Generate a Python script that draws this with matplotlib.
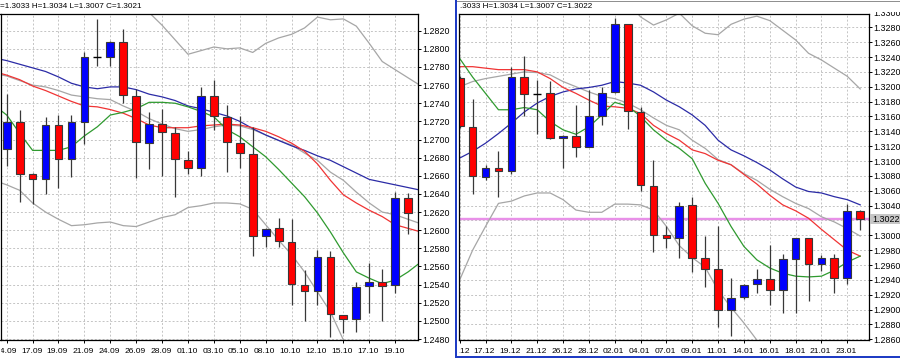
import numpy as np
import matplotlib
matplotlib.use("Agg")
import matplotlib.pyplot as plt
from matplotlib.patches import Rectangle
from matplotlib.transforms import Bbox, blended_transform_factory

plt.rcParams['font.family'] = ['Liberation Sans', 'DejaVu Sans']

# ---------------- left chart data ----------------
left_title = "=1.3033 H=1.3034 L=1.3007 C=1.3021"
left_dates = ["14.09", "17.09", "19.09", "21.09", "24.09", "26.09", "28.09", "01.10",
              "03.10", "05.10", "08.10", "10.10", "12.10", "15.10", "17.10", "19.10"]
left_open = [1.2690, 1.2719, 1.2662, 1.2656, 1.2716, 1.2678, 1.2719, 1.2791, 1.2791, 1.2808,
             1.2748, 1.2696, 1.2717, 1.2707, 1.2677, 1.2669, 1.2748, 1.2725, 1.2696, 1.2684,
             1.2594, 1.2602, 1.2587, 1.2540, 1.2533, 1.2570, 1.2507, 1.2502, 1.2538, 1.2543,
             1.2540, 1.2635]
left_high = [1.2750, 1.2733, 1.2663, 1.2725, 1.2727, 1.2727, 1.2797, 1.2833, 1.2809, 1.2822,
             1.2756, 1.2730, 1.2734, 1.2714, 1.2687, 1.2758, 1.2766, 1.2738, 1.2726, 1.2714,
             1.2602, 1.2613, 1.2612, 1.2556, 1.2578, 1.2577, 1.2507, 1.2543, 1.2564, 1.2557,
             1.2642, 1.2641]
left_low = [1.2671, 1.2631, 1.2629, 1.2640, 1.2646, 1.2659, 1.2695, 1.2781, 1.2781, 1.2740,
            1.2657, 1.2668, 1.2660, 1.2637, 1.2662, 1.2660, 1.2710, 1.2664, 1.2669, 1.2572,
            1.2582, 1.2582, 1.2517, 1.2500, 1.2517, 1.2482, 1.2487, 1.2488, 1.2509, 1.2500,
            1.2531, 1.2596]
left_close = [1.2719, 1.2662, 1.2656, 1.2716, 1.2678, 1.2719, 1.2791, 1.2791, 1.2808, 1.2749,
              1.2697, 1.2717, 1.2708, 1.2678, 1.2669, 1.2748, 1.2726, 1.2697, 1.2685, 1.2594,
              1.2601, 1.2588, 1.2541, 1.2533, 1.2570, 1.2508, 1.2502, 1.2537, 1.2543, 1.2539,
              1.2635, 1.2619]
# indicator lines, bar -1 .. bar 32
left_ma_blue = [1.2790, 1.2787, 1.2783, 1.2779, 1.2775, 1.2769, 1.2762, 1.2758, 1.2756, 1.2758,
                1.2758, 1.2755, 1.2750, 1.2747, 1.2743, 1.2737, 1.2734, 1.2730, 1.2726, 1.2720,
                1.2712, 1.2705, 1.2699, 1.2693, 1.2688, 1.2682, 1.2677, 1.2670, 1.2663, 1.2656,
                1.2653, 1.2650, 1.2647, 1.2644]
left_ma_red = [1.2775, 1.2771, 1.2766, 1.2759, 1.2754, 1.2748, 1.2742, 1.2737, 1.2736, 1.2733,
               1.2729, 1.2723, 1.2716, 1.2713, 1.2713, 1.2713, 1.2715, 1.2716, 1.2717, 1.2716,
               1.2713, 1.2709, 1.2703, 1.2696, 1.2687, 1.2673, 1.2655, 1.2639, 1.2630, 1.2622,
               1.2615, 1.2606, 1.2602, 1.2598]
left_ma_green = [1.2738, 1.2727, 1.2707, 1.2688, 1.2688, 1.2688, 1.2692, 1.2704, 1.2714, 1.2727,
                 1.2730, 1.2734, 1.2741, 1.2741, 1.2740, 1.2736, 1.2731, 1.2725, 1.2711, 1.2703,
                 1.2692, 1.2681, 1.2667, 1.2652, 1.2637, 1.2619, 1.2598, 1.2575, 1.2554, 1.2547,
                 1.2541, 1.2545, 1.2554, 1.2565]
left_bb_mid = [1.2773, 1.2770, 1.2765, 1.2760, 1.2758, 1.2754, 1.2749, 1.2747, 1.2745, 1.2744,
               1.2737, 1.2731, 1.2723, 1.2717, 1.2712, 1.2709, 1.2711, 1.2714, 1.2716, 1.2715,
               1.2711, 1.2705, 1.2699, 1.2694, 1.2685, 1.2677, 1.2664, 1.2655, 1.2642, 1.2630,
               1.2620, 1.2617, 1.2612, 1.2607]
left_bb_up = [1.2891, 1.2890, 1.2886, 1.2890, 1.2896, 1.2896, 1.2893, 1.2888, 1.2882, 1.2879,
              1.2869, 1.2858, 1.2840, 1.2826, 1.2810, 1.2794, 1.2798, 1.2802, 1.2800, 1.2801,
              1.2796, 1.2806, 1.2812, 1.2816, 1.2823, 1.2835, 1.2832, 1.2833, 1.2825, 1.2806,
              1.2786, 1.2777, 1.2768, 1.2759]
left_bb_lo = [1.2655, 1.2650, 1.2644, 1.2630, 1.2620, 1.2612, 1.2605, 1.2606, 1.2608, 1.2609,
              1.2605, 1.2604, 1.2609, 1.2614, 1.2617, 1.2625, 1.2627, 1.2630, 1.2630, 1.2629,
              1.2623, 1.2606, 1.2589, 1.2573, 1.2554, 1.2532, 1.2510, 1.2479, 1.2459, 1.2454,
              1.2454, 1.2457, 1.2456, 1.2455]

# ---------------- right chart data ----------------
right_title = ".3033 H=1.3034 L=1.3007 C=1.3022"
right_dates = ["14.12", "17.12", "19.12", "21.12", "26.12", "28.12", "02.01", "04.01",
               "07.01", "09.01", "11.01", "14.01", "16.01", "18.01", "21.01", "23.01"]
right_open = [1.3212, 1.3146, 1.3079, 1.3090, 1.3087, 1.3213, 1.3190, 1.3191, 1.3131, 1.3134,
              1.3119, 1.3161, 1.3193, 1.3284, 1.3166, 1.3066, 1.3000, 1.2997, 1.3041, 1.2969,
              1.2954, 1.2900, 1.2917, 1.2934, 1.2941, 1.2926, 1.2968, 1.2996, 1.2962, 1.2969,
              1.2942, 1.3033]
right_high = [1.3215, 1.3183, 1.3094, 1.3114, 1.3227, 1.3241, 1.3209, 1.3208, 1.3135, 1.3175,
              1.3196, 1.3199, 1.3293, 1.3285, 1.3173, 1.3101, 1.3012, 1.3045, 1.3052, 1.2999,
              1.3013, 1.2942, 1.2934, 1.2954, 1.2987, 1.2975, 1.2997, 1.2997, 1.2973, 1.2975,
              1.3042, 1.3034]
right_low = [1.3145, 1.3056, 1.3075, 1.3051, 1.3083, 1.3160, 1.3137, 1.3130, 1.3090, 1.3106,
             1.3119, 1.3148, 1.3192, 1.3143, 1.3060, 1.2978, 1.2983, 1.2970, 1.2951, 1.2930,
             1.2876, 1.2864, 1.2914, 1.2922, 1.2906, 1.2896, 1.2896, 1.2912, 1.2952, 1.2922,
             1.2934, 1.3007]
right_close = [1.3147, 1.3080, 1.3090, 1.3086, 1.3213, 1.3190, 1.3190, 1.3131, 1.3134, 1.3119,
               1.3160, 1.3192, 1.3284, 1.3167, 1.3068, 1.3000, 1.2997, 1.3040, 1.2970, 1.2955,
               1.2900, 1.2916, 1.2933, 1.2941, 1.2926, 1.2968, 1.2996, 1.2962, 1.2969, 1.2942,
               1.3033, 1.3022]
right_ma_blue = [1.3104, 1.3113, 1.3124, 1.3137, 1.3151, 1.3166, 1.3178, 1.3187, 1.3193, 1.3197,
                 1.3199, 1.3202, 1.3207, 1.3205, 1.3202, 1.3193, 1.3182, 1.3173, 1.3162, 1.3148,
                 1.3128, 1.3115, 1.3107, 1.3098, 1.3088, 1.3076, 1.3065, 1.3059, 1.3057, 1.3052,
                 1.3048, 1.3041]
right_ma_red = [1.3227, 1.3227, 1.3225, 1.3223, 1.3223, 1.3223, 1.3220, 1.3211, 1.3199, 1.3191,
                1.3182, 1.3174, 1.3173, 1.3171, 1.3164, 1.3148, 1.3137, 1.3128, 1.3115, 1.3110,
                1.3101, 1.3095, 1.3082, 1.3069, 1.3054, 1.3041, 1.3033, 1.3023, 1.3008, 1.2994,
                1.2980, 1.2972]
right_ma_green = [1.3238, 1.3213, 1.3191, 1.3169, 1.3169, 1.3172, 1.3169, 1.3153, 1.3142, 1.3136,
                  1.3146, 1.3162, 1.3179, 1.3174, 1.3160, 1.3142, 1.3128, 1.3117, 1.3103, 1.3070,
                  1.3043, 1.3012, 1.2985, 1.2967, 1.2956, 1.2949, 1.2945, 1.2944, 1.2945, 1.2953,
                  1.2964, 1.2972]
right_bb_mid = [1.3200, 1.3207, 1.3211, 1.3214, 1.3217, 1.3220, 1.3219, 1.3216, 1.3207, 1.3200,
                1.3193, 1.3187, 1.3184, 1.3178, 1.3169, 1.3158, 1.3148, 1.3142, 1.3128, 1.3117,
                1.3102, 1.3095, 1.3083, 1.3074, 1.3062, 1.3052, 1.3043, 1.3036, 1.3025, 1.3018,
                1.3009, 1.2999]
right_bb_up = [1.3460, 1.3434, 1.3410, 1.3385, 1.3388, 1.3387, 1.3381, 1.3375, 1.3366, 1.3366,
               1.3355, 1.3343, 1.3326, 1.3314, 1.3294, 1.3283, 1.3290, 1.3299, 1.3282, 1.3272,
               1.3270, 1.3284, 1.3291, 1.3295, 1.3289, 1.3276, 1.3263, 1.3245, 1.3236, 1.3225,
               1.3214, 1.3197]
right_bb_lo = [1.2940, 1.2980, 1.3012, 1.3043, 1.3046, 1.3053, 1.3057, 1.3057, 1.3048, 1.3034,
               1.3031, 1.3031, 1.3042, 1.3042, 1.3041, 1.3034, 1.3012, 1.2986, 1.2970, 1.2957,
               1.2926, 1.2903, 1.2882, 1.2859, 1.2835, 1.2828, 1.2823, 1.2827, 1.2814, 1.2811,
               1.2804, 1.2801]
right_bid = 1.3022

# ---------------- styling ----------------
FW, FH = 900, 358
BULL, BEAR, EDGE = '#0000ff', '#ff0000', '#383838'
C_BLUE, C_RED, C_GREEN, C_GRAY = '#2b2ba6', '#f03434', '#2f9a2f', '#a6a6a6'
GRID = '#c4c4c4'
FS = 6.4        # price axis labels
FS_DATE = 6.1   # date labels
FS_TITLE = 5.9  # OHLC header

fig = plt.figure(figsize=(FW / 100, FH / 100), dpi=100)
fig.patch.set_facecolor('white')


def axes_px(x0, y0, x1, y1):
    return fig.add_axes([x0 / FW, 1 - y1 / FH, (x1 - x0) / FW, (y1 - y0) / FH])


def draw_chart(ax, o, h, l, c, line_x, lines, dates, xlim, ylim, yticks, clip_x0):
    o, h, l, c = map(np.asarray, (o, h, l, c))
    x = np.arange(len(o))
    ax.set_facecolor('white')
    ax.set_xlim(*xlim)
    ax.set_ylim(*ylim)
    # indicator lines behind the bars (chart in foreground)
    for vals, col in lines:
        ax.plot(line_x, vals, color=col, lw=0.9, zorder=3)
    ax.vlines(x, l, h, color=EDGE, lw=0.9, zorder=4)
    bottoms = np.minimum(o, c)
    heights = np.abs(c - o)
    up = c > o
    dn = c < o
    dj = c == o
    ax.bar(x[up], heights[up], bottom=bottoms[up], width=0.6, color=BULL,
           edgecolor=EDGE, linewidth=0.8, zorder=5)
    ax.bar(x[dn], heights[dn], bottom=bottoms[dn], width=0.6, color=BEAR,
           edgecolor=EDGE, linewidth=0.8, zorder=5)
    ax.hlines(o[dj], x[dj] - 0.32, x[dj] + 0.32, color='black', lw=1.0, zorder=5)
    ax.set_xticks(np.arange(0, len(o), 2))
    ax.set_xticklabels([])
    ax.set_yticks(yticks)
    ax.set_yticklabels([f"{v:.4f}" for v in yticks])
    ax.yaxis.tick_right()
    ax.tick_params(axis='both', direction='out', length=2.2, width=0.7, colors='black',
                   labelsize=FS, pad=1.2)
    ax.grid(True, color=GRID, linestyle=(0, (2, 2)), lw=0.7, zorder=0)
    ax.set_axisbelow(True)
    for sp in ax.spines.values():
        sp.set_color('black')
        sp.set_linewidth(0.9)
        sp.set_zorder(6)
    tr = blended_transform_factory(ax.transData, ax.transAxes)
    clip = Bbox([[clip_x0, 0], [FW, FH - 340]])
    ax_h = 326.0
    for i, d in enumerate(dates):
        t = ax.text(2 * i - 0.08, -11.5 / ax_h, d, transform=tr, ha='center', va='center',
                    fontsize=FS_DATE, color='black', clip_on=True)
        t.set_clip_box(clip)


# left chart
axL = axes_px(0.5, 14, 417.7, 340)
draw_chart(axL, left_open, left_high, left_low, left_close, np.arange(-1, 33),
           [(left_bb_up, C_GRAY), (left_bb_lo, C_GRAY), (left_bb_mid, C_GRAY),
            (left_ma_blue, C_BLUE), (left_ma_red, C_RED), (left_ma_green, C_GREEN)],
           left_dates, (-0.479, 31.74), (1.24789, 1.28384),
           np.round(np.arange(1.2480, 1.28201, 0.0020), 4), 0.5)

# right chart
axR = axes_px(458.5, 14, 869, 340)
draw_chart(axR, right_open, right_high, right_low, right_close, np.arange(0, 32),
           [(right_bb_up, C_GRAY), (right_bb_lo, C_GRAY), (right_bb_mid, C_GRAY),
            (right_ma_blue, C_BLUE), (right_ma_red, C_RED), (right_ma_green, C_GREEN)],
           right_dates, (-0.093, 31.68), (1.28591, 1.32979),
           np.round(np.arange(1.2860, 1.32801, 0.0020), 4), 458.5)
axR.axhline(right_bid, color='#e890e8', lw=1.7, zorder=2.8)

# partially hidden top label on right axis
tr_r = blended_transform_factory(axR.transAxes, axR.transData)
t = axR.text(1.0 + 4.0 / 410.5, 1.3300, "1.3300", transform=tr_r, ha='left',
             va='center_baseline', fontsize=FS, clip_on=True)
t.set_clip_box(Bbox([[869, 0], [FW, FH - 11.5]]))

# bid price label box
bid_y = axR.transData.transform((0, right_bid))[1]
fig.add_artist(Rectangle((870 / FW, (bid_y - 4.8) / FH), 30 / FW, 9.6 / FH,
                         transform=fig.transFigure, facecolor='#c6c6c6', edgecolor='none',
                         zorder=6))
fig.text(872.5 / FW, bid_y / FH, f"{right_bid:.4f}", ha='left', va='center_baseline',
         fontsize=FS, zorder=7)

# titles
fig.text(0.0, 1 - 6.5 / FH, left_title, ha='left', va='center', fontsize=FS_TITLE)
fig.text(460 / FW, 1 - 6.5 / FH, right_title, ha='left', va='center', fontsize=FS_TITLE)

# window frame of right chart
fig.add_artist(Rectangle((455 / FW, 0), 2.4 / FW, 1, transform=fig.transFigure,
                         facecolor='#1f3cc4', edgecolor='none'))
fig.add_artist(Rectangle((455 / FW, 0), (FW - 455) / FW, 1.8 / FH, transform=fig.transFigure,
                         facecolor='#1f3cc4', edgecolor='none'))
fig.add_artist(Rectangle((457 / FW, 1 - 1.6 / FH), (FW - 457) / FW, 0.9 / FH,
                         transform=fig.transFigure, facecolor='#909090', edgecolor='none'))

fig.savefig('out.png', dpi=100, facecolor='white')
